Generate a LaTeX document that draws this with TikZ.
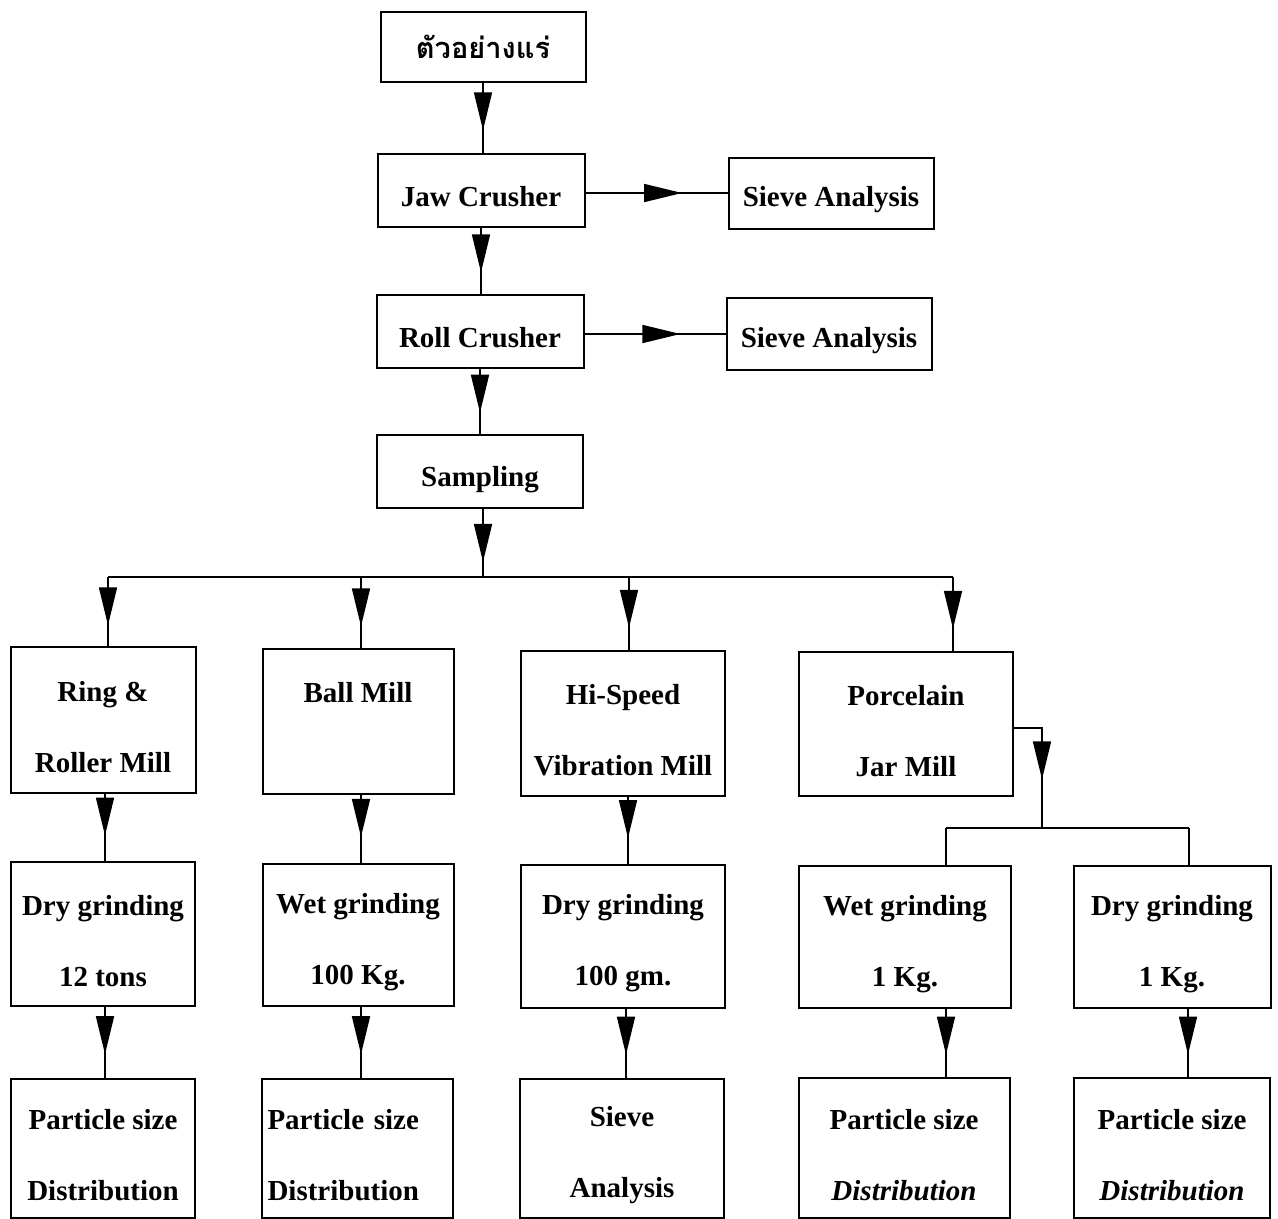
\documentclass[tikz,border=0pt]{standalone}
\usepackage{fontspec}
\setmainfont{Liberation Serif}
\newfontfamily\thaifont[Script=Thai]{Loma}
\usetikzlibrary{arrows.meta,decorations.markings,calc}
\tikzset{
  box/.style={draw, line width=2pt, inner sep=0pt, align=center, text height=34pt,
    font=\fontsize{29}{35}\selectfont\bfseries},
  tallbox/.style={box, text height=105pt},
  flow/.style={line width=1.6pt, postaction={decorate},
    decoration={markings, mark=at position #1 with {\arrow{Triangle[length=38pt,width=18pt]}}}},
  flow/.default=0.66,
  plain/.style={line width=1.6pt}
}
\begin{document}
\begin{tikzpicture}[x=1pt,y=-1pt]
\useasboundingbox (0,0) rectangle (1278,1219);
% top chain
\node[box, text height=24pt, minimum width=205pt, minimum height=70pt] (ore) at (483,47) {\thaifont\bfseries ตัวอย่างแร่};
\node[box, minimum width=207pt, minimum height=73pt] (jaw) at (481,190) {Jaw Crusher};
\node[box, minimum width=205pt, minimum height=71pt] (sa1) at (831,193) {Sieve Analysis};
\node[box, minimum width=207pt, minimum height=73pt] (roll) at (480,331) {Roll Crusher};
\node[box, minimum width=205pt, minimum height=72pt] (sa2) at (829,334) {Sieve Analysis};
\node[box, text height=38pt, minimum width=206pt, minimum height=73pt] (samp) at (480,471) {Sampling};
% row 1
\node[tallbox, minimum width=185pt, minimum height=146pt] (ring) at (103,720) {Ring \&\\[36pt]Roller Mill};
\node[tallbox, minimum width=191pt, minimum height=145pt] (ball) at (358,721) {Ball Mill\\[36pt]\phantom{X}};
\node[tallbox, minimum width=204pt, minimum height=145pt] (hsv) at (623,723) {Hi-Speed\\[36pt]Vibration Mill};
\node[tallbox, minimum width=214pt, minimum height=144pt] (por) at (906,724) {Porcelain\\[36pt]Jar Mill};
% row 2
\node[tallbox, minimum width=184pt, minimum height=144pt] (dry1) at (103,934) {Dry grinding\\[36pt]12 tons};
\node[tallbox, minimum width=191pt, minimum height=142pt] (wet2) at (358,935) {Wet grinding\\[36pt]100 Kg.};
\node[tallbox, minimum width=204pt, minimum height=143pt] (dry3) at (623,936) {Dry grinding\\[36pt]100 gm.};
\node[tallbox, minimum width=212pt, minimum height=142pt] (wet4) at (905,937) {Wet grinding\\[36pt]1 Kg.};
\node[tallbox, minimum width=197pt, minimum height=142pt] (dry5) at (1172,937) {Dry grinding\\[36pt]1 Kg.};
% row 3
\node[tallbox, minimum width=184pt, minimum height=139pt] (psd1) at (103,1148) {Particle size\\[36pt]Distribution};
\node[box, minimum width=191pt, minimum height=139pt, align=left, text width=179pt] (psd2) at (357,1148) {Particle size\\[36pt]Distribution};
\node[tallbox, minimum width=204pt, minimum height=139pt] (sa3) at (622,1148) {Sieve\\[36pt]Analysis};
\node[tallbox, minimum width=211pt, minimum height=140pt] (psd4) at (904,1148) {Particle size\\[36pt]\textit{Distribution}};
\node[tallbox, minimum width=196pt, minimum height=140pt] (psd5) at (1172,1148) {Particle size\\[36pt]\textit{Distribution}};
% top connectors
\draw[flow=0.68] (ore.south) -- (ore.south |- jaw.north);
\draw[flow=0.68] (jaw.east |- sa1.west) -- (sa1.west);
\draw[flow=0.68] (jaw.south) -- (jaw.south |- roll.north);
\draw[flow=0.68] (roll.east |- sa2.west) -- (sa2.west);
\draw[flow=0.68] (roll.south) -- (roll.south |- samp.north);
% bus
\coordinate (bus) at (483,577);
\coordinate (b1) at (108,577);
\coordinate (b2) at (361,577);
\coordinate (b3) at (629,577);
\coordinate (b4) at (953,577);
\draw[flow=0.78] (samp.south -| bus) -- (bus);
\draw[plain] (b1) -- (b4);
\draw[flow=0.7] (b1) -- (b1 |- ring.north);
\draw[flow=0.7] (b2) -- (b2 |- ball.north);
\draw[flow=0.7] (b3) -- (b3 |- hsv.north);
\draw[flow=0.7] (b4) -- (b4 |- por.north);
% row1 -> row2
\coordinate (c1) at (105,793);
\coordinate (c2) at (361,793);
\coordinate (c3) at (628,795);
\draw[flow=0.62] (c1 |- ring.south) -- (c1 |- dry1.north);
\draw[flow=0.62] (c2 |- ball.south) -- (c2 |- wet2.north);
\draw[flow=0.62] (c3 |- hsv.south) -- (c3 |- dry3.north);
% porcelain branch
\coordinate (pe) at (1042,728);
\coordinate (pb) at (1042,828);
\coordinate (pl) at (946,828);
\coordinate (pr) at (1189,828);
\draw[flow=0.62] (por.east |- pe) -- (pe) -- (pb);
\draw[plain] (pl) -- (pr);
\draw[plain] (pl) -- (pl |- wet4.north);
\draw[plain] (pr) -- (pr |- dry5.north);
% row2 -> row3
\coordinate (d1) at (105,1006);
\coordinate (d2) at (361,1006);
\coordinate (d3) at (626,1006);
\coordinate (d4) at (946,1006);
\coordinate (d5) at (1188,1006);
\draw[flow=0.67] (d1 |- dry1.south) -- (d1 |- psd1.north);
\draw[flow=0.67] (d2 |- wet2.south) -- (d2 |- psd2.north);
\draw[flow=0.67] (d3 |- dry3.south) -- (d3 |- sa3.north);
\draw[flow=0.67] (d4 |- wet4.south) -- (d4 |- psd4.north);
\draw[flow=0.67] (d5 |- dry5.south) -- (d5 |- psd5.north);
\end{tikzpicture}
\end{document}
